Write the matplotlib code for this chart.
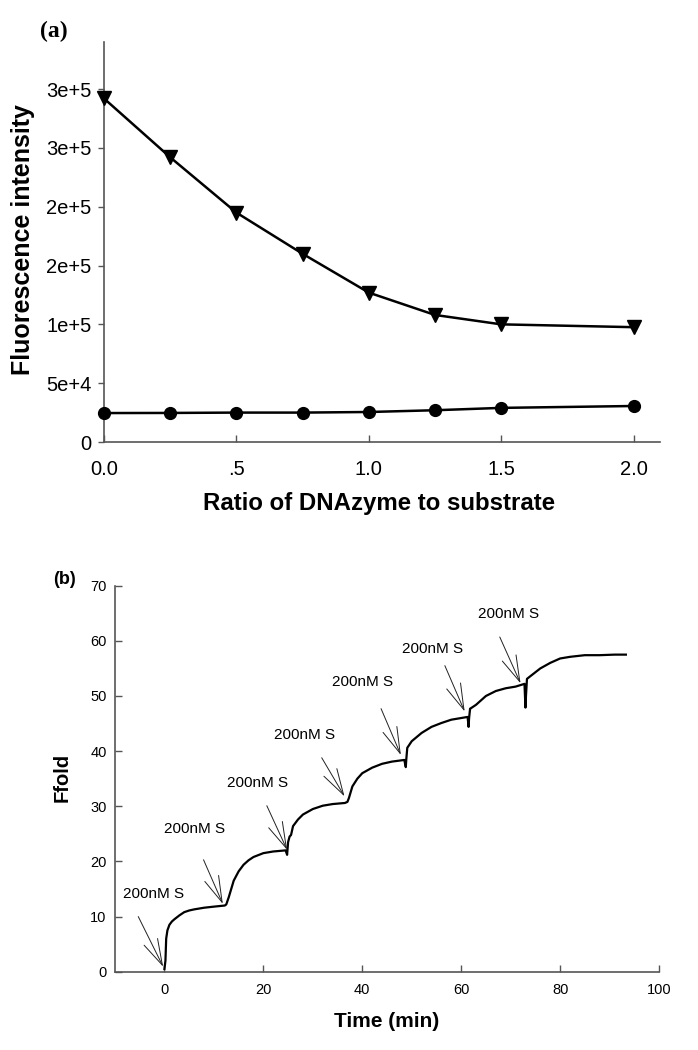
import matplotlib
matplotlib.use("Agg")
import matplotlib.pyplot as plt

# ---------------- data: panel (a) ----------------
ratio = [0.0, 0.25, 0.5, 0.75, 1.0, 1.25, 1.5, 2.0]
fluor_triangle = [2.92e5, 2.42e5, 1.95e5, 1.60e5, 1.27e5, 1.08e5, 1.00e5, 0.976e5]
fluor_circle = [2.46e4, 2.47e4, 2.50e4, 2.50e4, 2.55e4, 2.70e4, 2.90e4, 3.06e4]
a_xticks = [0.0, 0.5, 1.0, 1.5, 2.0]
a_xticklabels = ["0.0", ".5", "1.0", "1.5", "2.0"]
a_yticks = [0, 5e4, 1e5, 1.5e5, 2e5, 2.5e5, 3e5]
a_yticklabels = ["0", "5e+4", "1e+5", "2e+5", "2e+5", "3e+5", "3e+5"]

# ---------------- data: panel (b) ----------------
time_min = [0.0, 0.2, 0.35, 0.6, 1.0, 1.5, 2.0, 3.0, 4.0, 5.0, 6.0, 8.0, 10.0, 12.2,
            12.5, 13.0, 14.0, 15.0, 16.0, 17.0, 18.0, 20.0, 22.0, 24.5,
            24.8, 25.0, 25.3, 25.6, 26.0, 27.0, 28.0, 30.0, 32.0, 34.0, 36.5, 37.0,
            37.3, 38.0, 39.0, 40.0, 42.0, 44.0, 46.0, 48.5,
            48.8, 48.9, 49.1, 50.0, 52.0, 54.0, 56.0, 58.0, 61.3,
            61.5, 61.6, 61.8, 62.0, 63.0, 65.0, 67.0, 69.0, 71.0, 72.8,
            73.0, 73.1, 73.3, 74.0, 76.0, 78.0, 80.0, 82.0, 85.0, 88.0, 91.0, 93.3]
ffold = [0.5, 2.0, 6.0, 7.5, 8.5, 9.1, 9.5, 10.2, 10.8, 11.1, 11.3, 11.6, 11.8, 12.0,
         12.2, 13.5, 16.5, 18.2, 19.4, 20.2, 20.8, 21.5, 21.8, 22.0,
         21.2, 23.5, 24.5, 24.8, 26.4, 27.6, 28.5, 29.5, 30.1, 30.4, 30.6, 30.8,
         31.5, 33.6, 35.0, 36.0, 37.0, 37.7, 38.1, 38.4,
         37.1, 38.5, 40.6, 41.8, 43.3, 44.4, 45.1, 45.7, 46.2,
         44.4, 46.0, 47.7, 47.8, 48.4, 50.0, 50.9, 51.4, 51.7, 52.2,
         47.9, 50.0, 53.1, 53.6, 55.0, 56.0, 56.8, 57.1, 57.4, 57.4, 57.5, 57.5]
b_label = "200nM S"
b_text_xy = [(-2.3, 14.1), (6.0, 25.8), (18.9, 34.3), (28.4, 43.0),
             (40.1, 52.5), (54.3, 58.5), (69.6, 64.9)]
b_arrow_tail = [(-5.3, 10.0), (7.9, 20.3), (20.7, 30.1), (31.8, 38.8),
                (43.8, 47.7), (56.7, 55.5), (67.8, 60.7)]
b_arrow_tip = [(-0.26, 0.9), (11.8, 12.3), (24.8, 22.1), (36.4, 31.8),
               (47.8, 39.3), (60.7, 47.2), (72.0, 52.3)]
b_xticks = [0, 20, 40, 60, 80, 100]
b_yticks = [0, 10, 20, 30, 40, 50, 60, 70]

SANS = ["Liberation Sans", "DejaVu Sans"]
plt.rcParams["font.family"] = SANS
spine_col = "#555555"

fig = plt.figure(figsize=(6.98, 10.5), dpi=100)

# ---------------- panel (a) ----------------
ax1 = fig.add_axes([104/698, 1-442/1050, 556/698, 400/1050])
ax1.plot(ratio, fluor_triangle, color="black", lw=1.8, marker="v", ms=9.5,
         clip_on=False, zorder=3)
ax1.plot(ratio, fluor_circle, color="black", lw=1.8, marker="o", ms=8.5,
         clip_on=False, zorder=3)
ax1.set_xlim(0, 2.1)
ax1.set_ylim(0, 3.4e5)
ax1.set_xticks(a_xticks)
ax1.set_xticklabels(a_xticklabels)
ax1.set_yticks(a_yticks)
ax1.set_yticklabels(a_yticklabels)
for s in ["top", "right"]:
    ax1.spines[s].set_visible(False)
for s in ["left", "bottom"]:
    ax1.spines[s].set_color(spine_col)
    ax1.spines[s].set_linewidth(1.2)
ax1.tick_params(axis="x", direction="in", length=5, width=1, color=spine_col,
                labelsize=14.5, pad=13)
ax1.tick_params(axis="y", direction="out", length=4, width=1, color=spine_col,
                labelsize=14.5, pad=5)
ax1.set_ylabel("Fluorescence intensity", fontsize=18, fontweight="bold")
ax1.set_xlabel("Ratio of DNAzyme to substrate", fontsize=17.3, fontweight="bold")
ax1.yaxis.set_label_coords(-0.124, 0.505)
ax1.xaxis.set_label_coords(0.495, -0.125)
fig.text(54/698, 1-31/1050, "(a)", family=["Liberation Serif", "DejaVu Serif"],
         fontweight="bold", fontsize=17, ha="center", va="center")

# ---------------- panel (b) ----------------
ax2 = fig.add_axes([115/698, 1-971.7/1050, 544/698, 386/1050])
ax2.plot(time_min, ffold, color="black", lw=1.6, zorder=3)
ax2.set_xlim(-10, 100)
ax2.set_ylim(0, 70)
ax2.set_xticks(b_xticks)
ax2.set_yticks(b_yticks)
for s in ["top", "right"]:
    ax2.spines[s].set_visible(False)
for s in ["left", "bottom"]:
    ax2.spines[s].set_color(spine_col)
    ax2.spines[s].set_linewidth(1.2)
ax2.tick_params(axis="both", direction="in", length=5, width=1, color=spine_col,
                labelsize=10.5)
ax2.tick_params(axis="x", pad=8)
ax2.tick_params(axis="y", pad=6)
ax2.set_ylabel("Ffold", fontsize=14.5, fontweight="bold")
ax2.set_xlabel("Time (min)", fontsize=15, fontweight="bold")
ax2.yaxis.set_label_coords(-0.079, 0.502)
ax2.xaxis.set_label_coords(0.499, -0.104)
for (tx, ty), tail, tip in zip(b_text_xy, b_arrow_tail, b_arrow_tip):
    ax2.text(tx, ty, b_label, fontsize=11, ha="center", va="center")
    ax2.annotate("", xy=tip, xytext=tail,
                 arrowprops=dict(arrowstyle="->,head_length=1.87,head_width=0.54",
                                 lw=0.7, color="#222222", shrinkA=0, shrinkB=0,
                                 mutation_scale=10))
fig.text(65/698, 1-579/1050, "(b)", fontweight="bold", fontsize=13,
         ha="center", va="center")

fig.savefig("out.png", dpi=100)
